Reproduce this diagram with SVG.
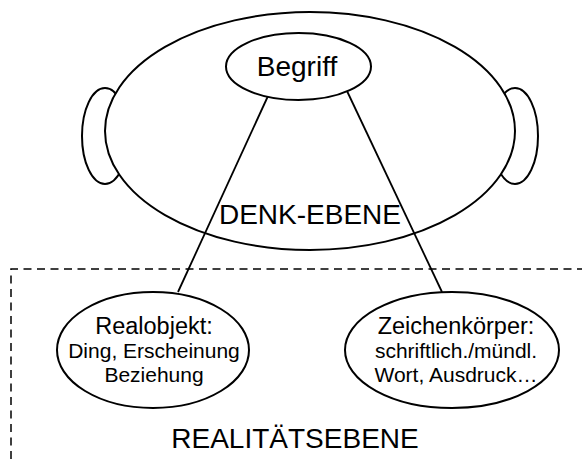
<svg xmlns="http://www.w3.org/2000/svg" width="582" height="459" viewBox="0 0 582 459">
<style>
.sh{fill:#fff;stroke:#000;stroke-width:2}
.ln{fill:none;stroke:#000;stroke-width:1.8}
.ds{fill:none;stroke:#000;stroke-width:1.5;stroke-dasharray:8,5.5}
text{font-family:"Liberation Sans",Arial,sans-serif;fill:#000;text-anchor:middle}
.big{font-size:28px}
.l1{font-size:23.5px}
.l2{font-size:21px}
</style>
<rect width="582" height="459" fill="#fff"/>
<g id="realitaetsebene">
<path class="ds" d="M11,459 V269 H582"/>
<text class="big" x="295" y="448">REALITÄTSEBENE</text>
</g>
<g id="denkebene">
<ellipse class="sh" cx="105" cy="136" rx="23" ry="48"/>
<ellipse class="sh" cx="515" cy="136" rx="23" ry="48"/>
<ellipse class="sh" cx="310" cy="131" rx="205" ry="119"/>
</g>
<g id="connectors">
<line class="ln" x1="268" y1="96" x2="178" y2="292"/>
<line class="ln" x1="347" y1="91" x2="442" y2="292"/>
</g>
<g id="denkebene-label">
<text class="big" x="310" y="224">DENK-EBENE</text>
</g>
<g id="begriff">
<ellipse class="sh" cx="298.5" cy="66.5" rx="72.5" ry="33.5"/>
<text class="big" x="297" y="76">Begriff</text>
</g>
<g id="realobjekt">
<ellipse class="sh" cx="153" cy="350" rx="96" ry="58"/>
<text class="l1" x="154" y="334">Realobjekt:</text>
<text class="l2" x="154" y="358">Ding, Erscheinung</text>
<text class="l2" x="154" y="382">Beziehung</text>
</g>
<g id="zeichenkoerper">
<ellipse class="sh" cx="452" cy="350" rx="107" ry="58"/>
<text class="l1" x="456" y="334">Zeichenkörper:</text>
<text class="l2" x="456" y="358">schriftlich./mündl.</text>
<text class="l2" x="456" y="382">Wort, Ausdruck…</text>
</g>
</svg>
